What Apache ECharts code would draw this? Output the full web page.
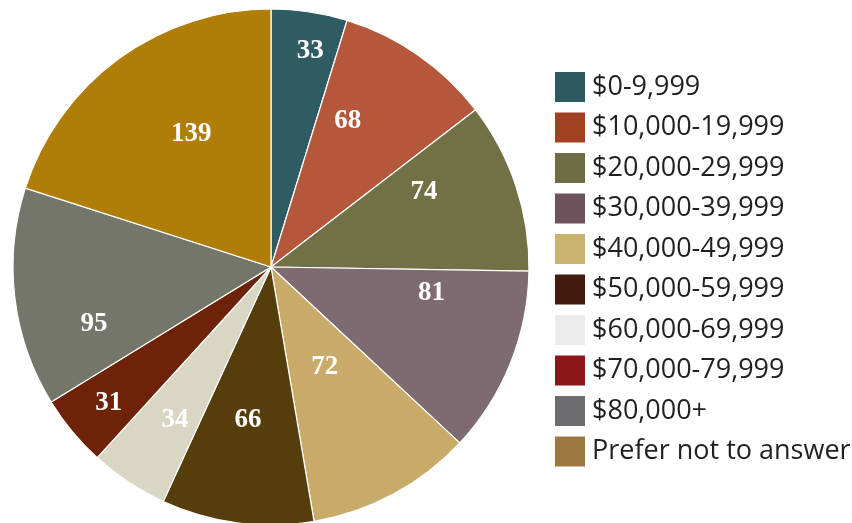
<!DOCTYPE html>
<html>
<head>
<meta charset="utf-8">
<script src="https://cdn.jsdelivr.net/npm/echarts@6/dist/echarts.min.js"></script>
<style>
  html, body { margin: 0; padding: 0; background: #fff; }
  #main { width: 852px; height: 523px; }
</style>
</head>
<body>
<div id="main"></div>
<script>
// income brackets, clockwise from 12 o'clock
var categories = ['$0-9,999', '$10,000-19,999', '$20,000-29,999', '$30,000-39,999',
  '$40,000-49,999', '$50,000-59,999', '$60,000-69,999', '$70,000-79,999',
  '$80,000+', 'Prefer not to answer'];
var values = [33, 68, 74, 81, 72, 66, 34, 31, 95, 139];

// slice colours and (slightly different) legend swatch colours
var sliceColors = ['#2f5b63', '#b5573a', '#727145', '#7e6b72', '#c9ab69',
  '#553e0b', '#d9d6c3', '#6e2308', '#75766a', '#b07e08'];
var legendColors = ['#2f5a62', '#a04122', '#6e6d44', '#6f525c', '#c8b46f',
  '#431c0e', '#ebebec', '#8b171b', '#6c6c71', '#9c7740'];

// label placement inside each slice: radial fraction and angular fraction
var labelDist = [0.85, 0.64, 0.66, 0.63, 0.44, 0.60, 0.70, 0.82, 0.72, 0.60];
var labelTurn = [0.60, 0.30, 0.30, 0.20, 0.50, 0.53, 0.42, 0.48, 0.28, 0.57];

var CX = 271, CY = 267, R = 258;

var total = values.reduce(function (a, b) { return a + b; }, 0);
var labelAngles = [];
var cum = 0;
values.forEach(function (v, i) {
  labelAngles.push((cum + v * labelTurn[i]) / total * 2 * Math.PI);
  cum += v;
});

var myChart = echarts.init(document.getElementById('main'));

var option = {
  animation: false,
  legend: {
    orient: 'vertical',
    left: 548,
    top: 65,
    itemWidth: 32,
    itemHeight: 32,
    itemGap: 6.5,
    icon: 'rect',
    selectedMode: false,
    textStyle: {
      fontFamily: 'Open Sans',
      fontSize: 27,
      color: '#231f20',
      padding: [0, 0, 0, 1]
    },
    data: categories.map(function (c, i) {
      return { name: c, itemStyle: { color: legendColors[i] } };
    })
  },
  series: [{
    type: 'pie',
    center: [CX, CY],
    radius: R,
    startAngle: 90,
    clockwise: true,
    avoidLabelOverlap: false,
    itemStyle: { borderColor: '#fff', borderWidth: 1.2 },
    label: {
      show: true,
      position: 'inside',
      formatter: '{c}',
      color: '#fff',
      fontFamily: 'Liberation Serif',
      fontWeight: 'bold',
      fontSize: 27
    },
    labelLine: { show: false },
    labelLayout: function (params) {
      var i = params.dataIndex;
      var a = labelAngles[i];
      return {
        x: CX + labelDist[i] * R * Math.sin(a),
        y: CY - labelDist[i] * R * Math.cos(a),
        align: 'center',
        verticalAlign: 'middle'
      };
    },
    emphasis: { disabled: true },
    data: categories.map(function (c, i) {
      return { name: c, value: values[i], itemStyle: { color: sliceColors[i] } };
    })
  }]
};

myChart.setOption(option);
window.onresize = myChart.resize;
</script>
</body>
</html>
